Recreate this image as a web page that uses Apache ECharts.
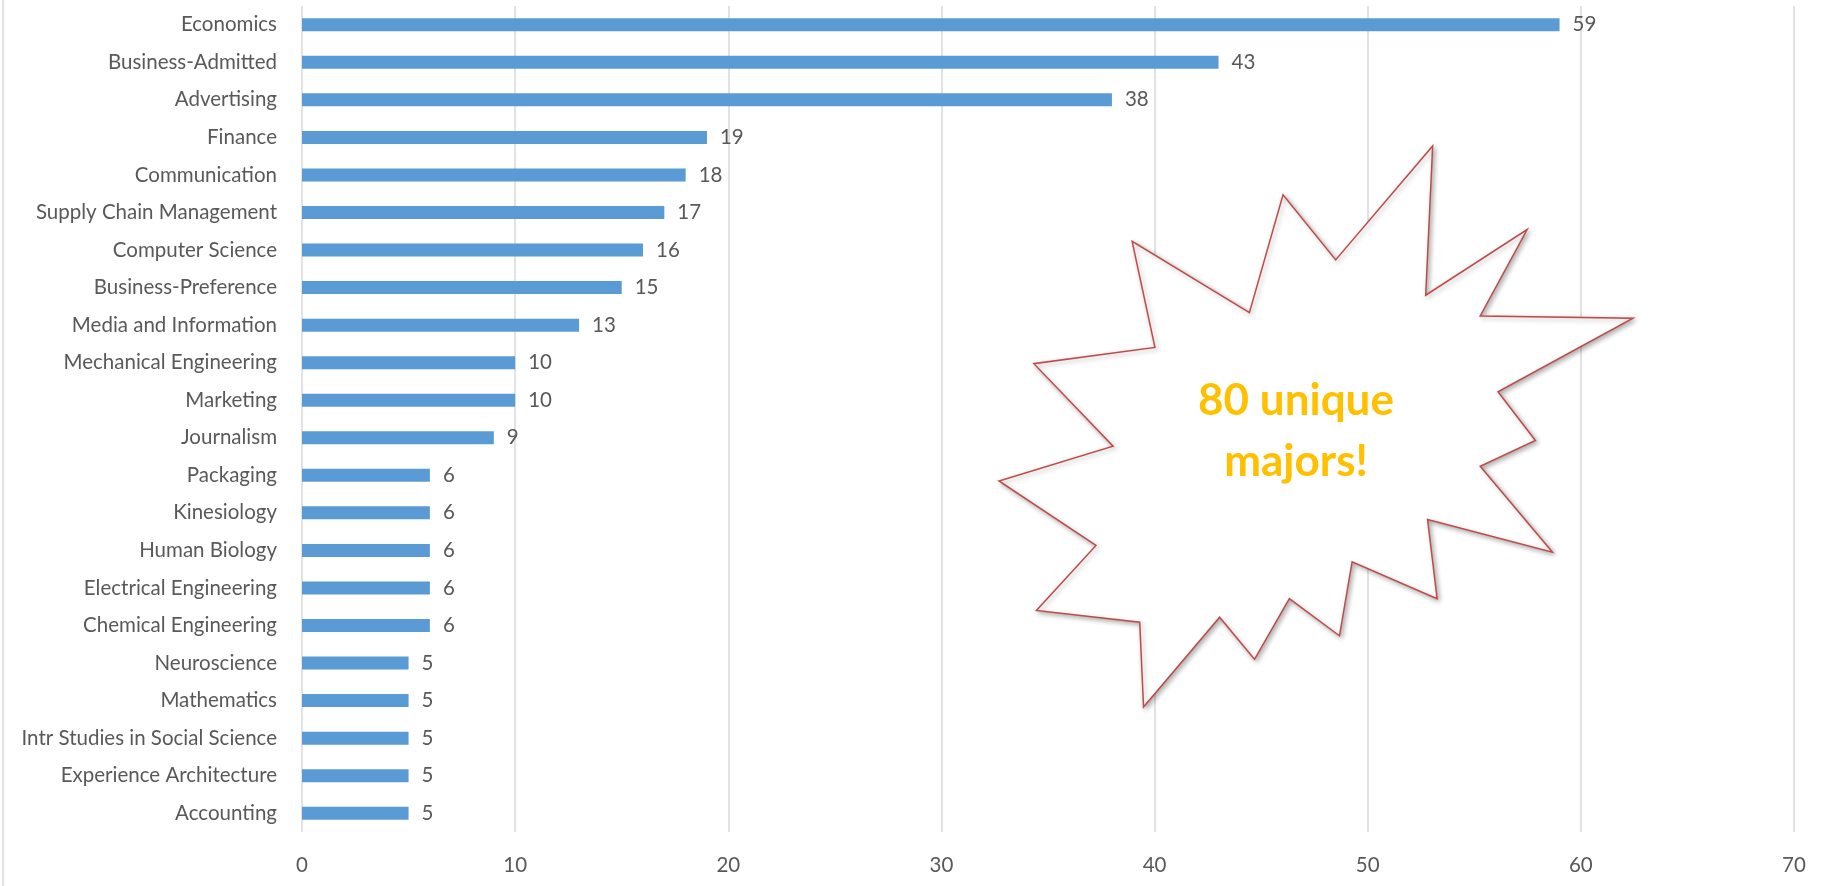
<!DOCTYPE html>
<html>
<head>
<meta charset="utf-8">
<title>Majors</title>
<script src="https://cdn.jsdelivr.net/npm/echarts@6/dist/echarts.min.js"></script>
<style>
  html, body { margin: 0; padding: 0; background: #ffffff; }
  #chart { width: 1826px; height: 886px; }
</style>
</head>
<body>
<div id="chart"></div>
<script>
// Majors, listed top to bottom
const categories = [
  'Economics', 'Business-Admitted', 'Advertising', 'Finance', 'Communication',
  'Supply Chain Management', 'Computer Science', 'Business-Preference',
  'Media and Information', 'Mechanical Engineering', 'Marketing', 'Journalism',
  'Packaging', 'Kinesiology', 'Human Biology', 'Electrical Engineering',
  'Chemical Engineering', 'Neuroscience', 'Mathematics',
  'Intr Studies in Social Science', 'Experience Architecture', 'Accounting'
];

// Number of students per major
const counts = [59, 43, 38, 19, 18, 17, 16, 15, 13, 10, 10, 9, 6, 6, 6, 6, 6, 5, 5, 5, 5, 5];

// Value axis
const axisMin = 0;
const axisMax = 70;
const axisStep = 10;

// Callout text
const calloutLines = ['80 unique', 'majors!'];

// Explosion outline, as fractions of its bounding box (x, y)
const burstShape = [
  [0.684, 0.000], [0.673, 0.266], [0.833, 0.149], [0.759, 0.303],
  [1.000, 0.307], [0.787, 0.438], [0.846, 0.525], [0.759, 0.571],
  [0.873, 0.724], [0.676, 0.666], [0.691, 0.807], [0.557, 0.741],
  [0.537, 0.873], [0.458, 0.807], [0.403, 0.915], [0.348, 0.840],
  [0.228, 1.000], [0.222, 0.849], [0.059, 0.828], [0.153, 0.712],
  [0.000, 0.597], [0.180, 0.535], [0.055, 0.388], [0.246, 0.359],
  [0.210, 0.170], [0.395, 0.297], [0.448, 0.087], [0.531, 0.203]
];

const chart = echarts.init(document.getElementById('chart'), null, { renderer: 'canvas' });

const textColor = '#595959';
const gridColor = '#d9d9d9';
const fontFamily = 'Lato, "Open Sans", sans-serif';

// Bounding box of the explosion shape on the canvas
const burstBox = { x: 999, y: 146, w: 634, h: 561 };
const burstPoints = burstShape.map(p => [burstBox.x + p[0] * burstBox.w, burstBox.y + p[1] * burstBox.h]);

chart.setOption({
  animation: false,
  backgroundColor: '#ffffff',
  grid: { left: 302, right: 32, top: 6, bottom: 54, containLabel: false },
  xAxis: {
    type: 'value',
    min: axisMin,
    max: axisMax,
    interval: axisStep,
    axisLine: { show: false },
    axisTick: { show: false },
    splitLine: { show: true, lineStyle: { color: gridColor, width: 1.5 } },
    axisLabel: { color: textColor, fontSize: 20.5, fontFamily: fontFamily, margin: 23 }
  },
  yAxis: {
    type: 'category',
    data: categories,
    inverse: true,
    axisLine: { show: false },
    axisTick: { show: false },
    splitLine: { show: false },
    axisLabel: { color: textColor, fontSize: 20.5, fontFamily: fontFamily, margin: 25 }
  },
  series: [{
    type: 'bar',
    data: counts,
    barWidth: 13,
    itemStyle: { color: '#5b9bd5' },
    label: {
      show: true,
      position: 'right',
      distance: 13,
      color: textColor,
      fontSize: 20.5,
      fontFamily: fontFamily
    }
  }],
  graphic: [
    {
      type: 'line',
      shape: { x1: 3, y1: 0, x2: 3, y2: 886 },
      style: { stroke: gridColor, lineWidth: 1.5 },
      silent: true
    },
    {
      type: 'polygon',
      shape: { points: burstPoints },
      style: {
        fill: '#ffffff',
        stroke: '#be4b48',
        lineWidth: 1.5,
        shadowBlur: 5,
        shadowOffsetX: 2,
        shadowOffsetY: 2,
        shadowColor: 'rgba(0,0,0,0.3)'
      },
      z: 10,
      silent: true
    },
    {
      type: 'text',
      x: 1296,
      y: 431,
      style: {
        text: calloutLines.join('\n'),
        fill: '#ffc000',
        font: 'bold 44px ' + fontFamily,
        lineHeight: 61,
        align: 'center',
        verticalAlign: 'middle'
      },
      z: 11,
      silent: true
    }
  ]
});
</script>
</body>
</html>
